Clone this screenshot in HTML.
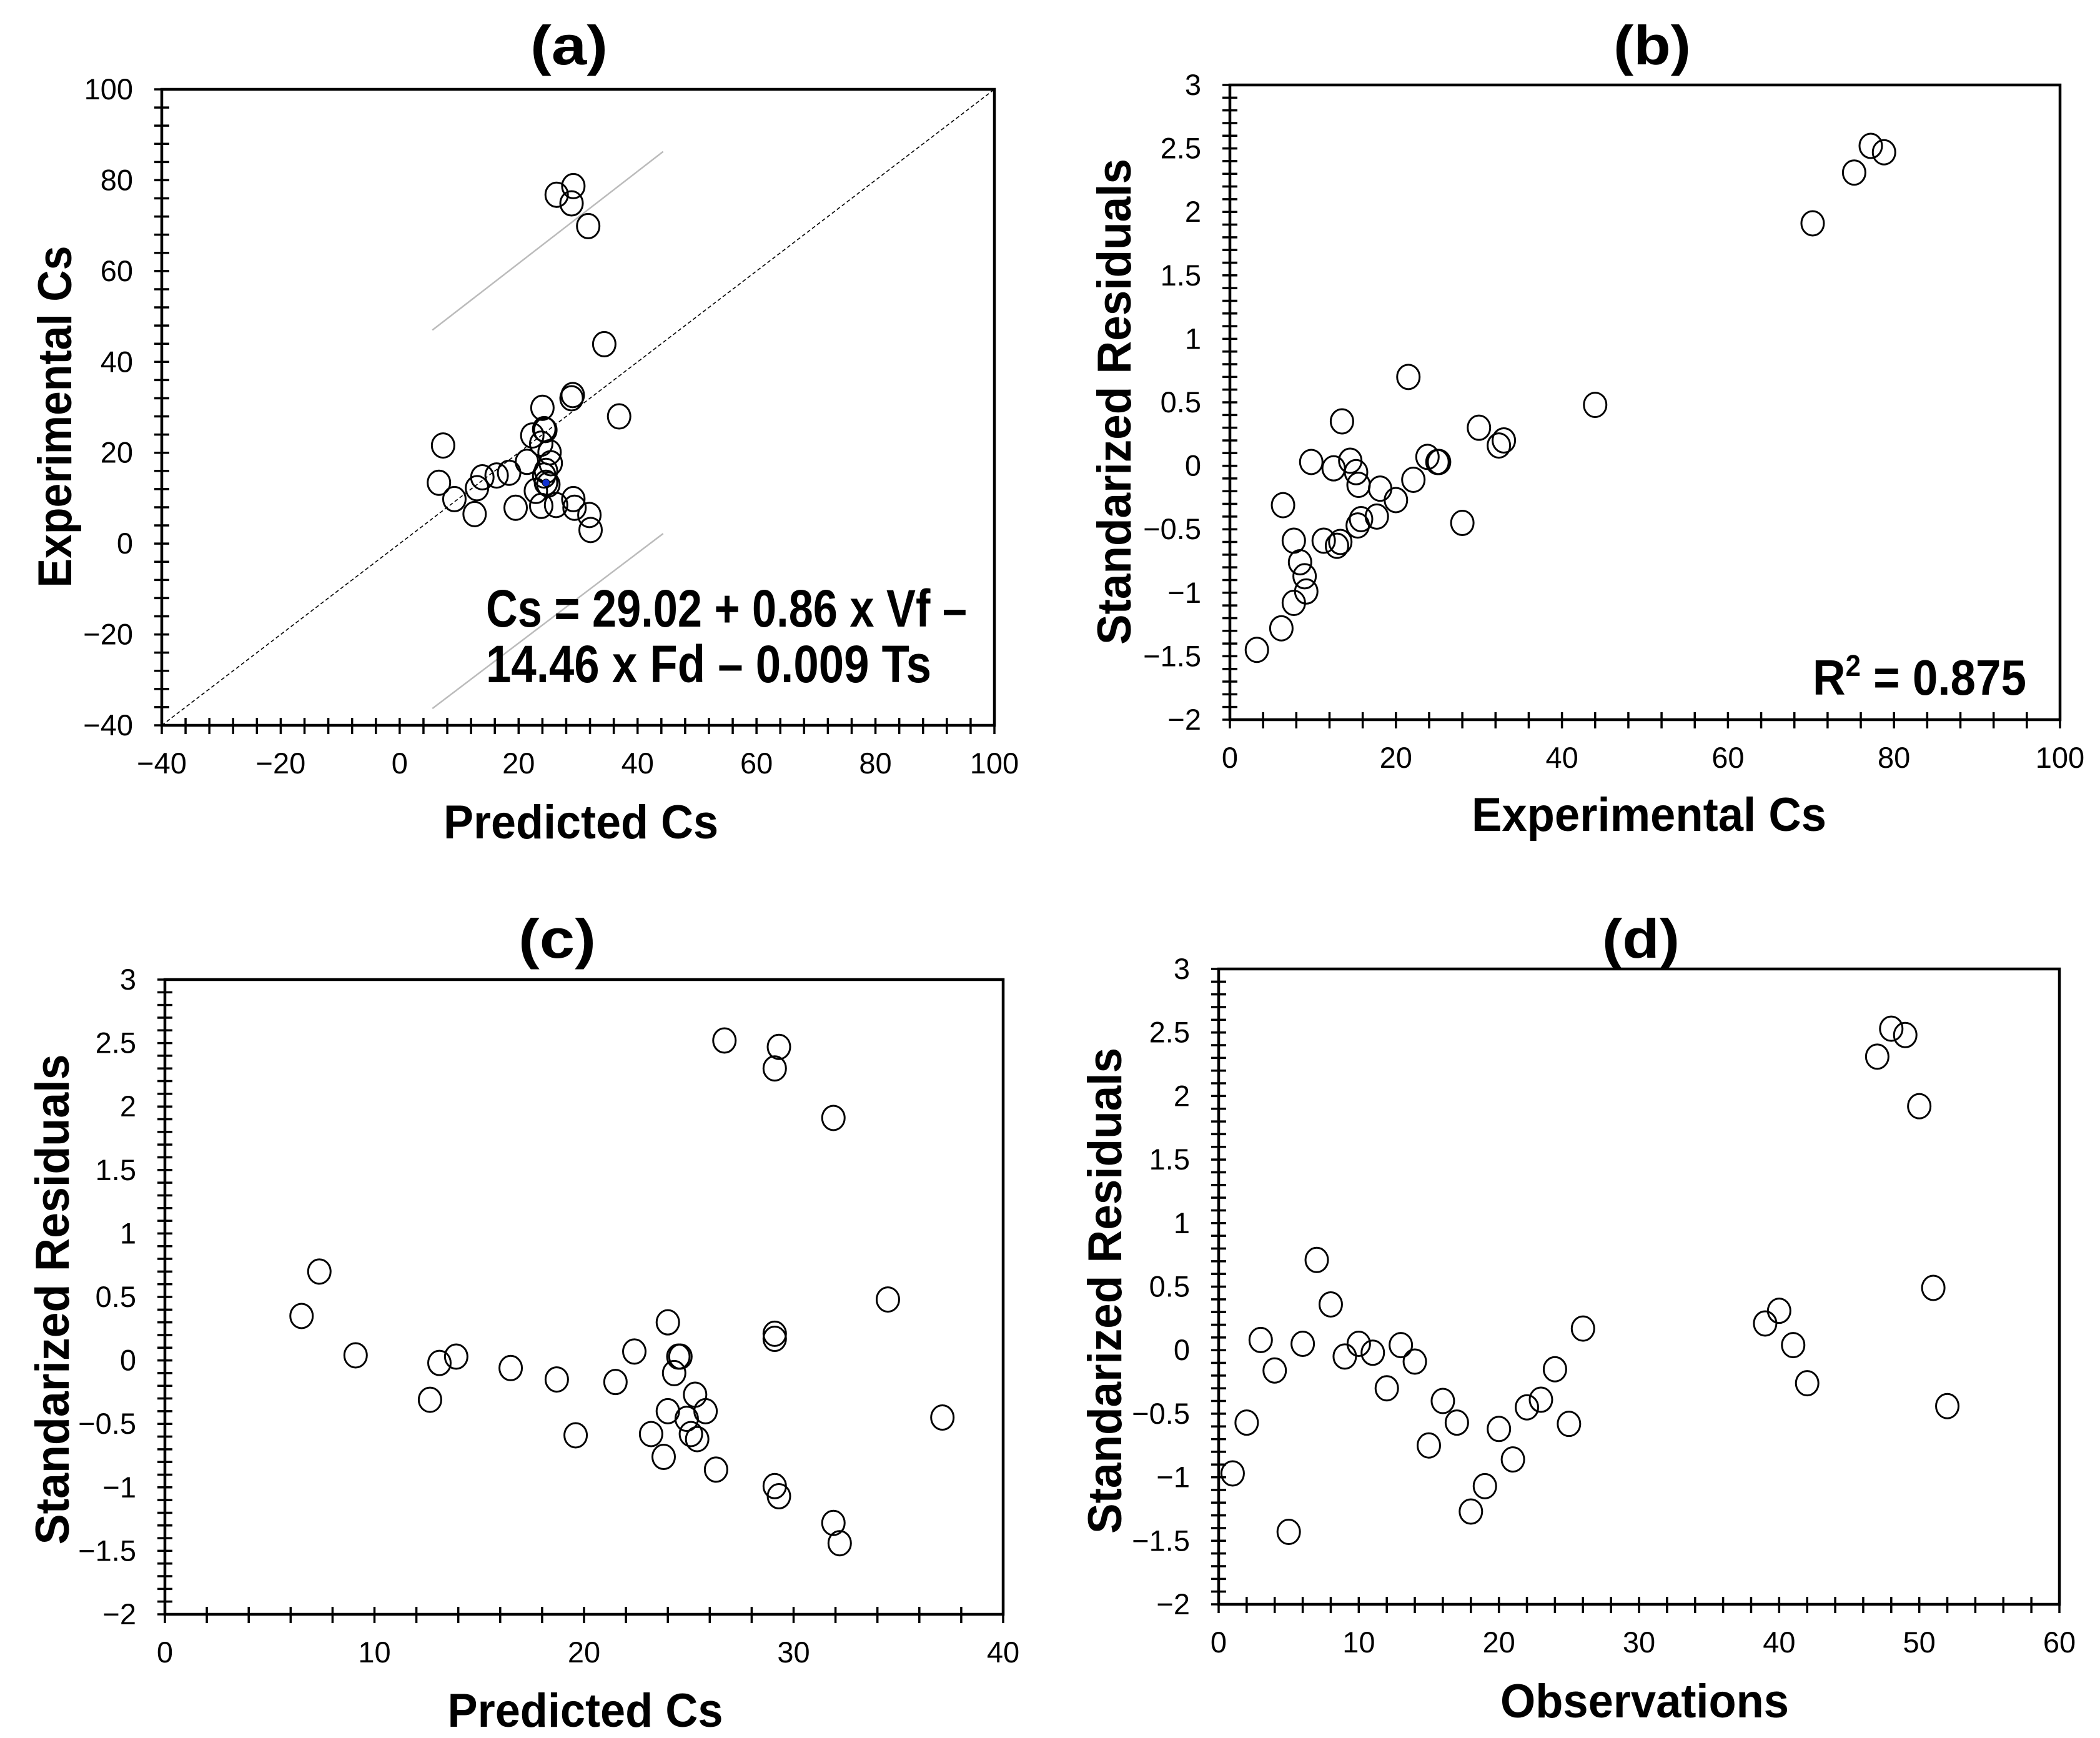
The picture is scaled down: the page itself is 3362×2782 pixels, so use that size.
<!DOCTYPE html>
<html>
<head>
<meta charset="utf-8">
<style>
  html,body{margin:0;padding:0;background:#fff;}
  svg{display:block;}
  text{font-family:"Liberation Sans",Arial,sans-serif;fill:#000;}
</style>
</head>
<body>
<svg id="fig" width="3362" height="2782" viewBox="0 0 3362 2782" xmlns="http://www.w3.org/2000/svg"></svg>
<script>
// ---------- Data ----------
const aPredicted = [26.4,29.2,28.9,31.7,34.4,29.1,28.9,36.9,24.0,24.3,24.5,22.3,23.8,25.2,25.4,7.3,21.4,18.4,16.3,13.9,13.0,6.6,9.2,12.6,19.5,24.3,24.6,25.0,22.9,23.8,26.3,29.2,29.4,31.9,32.1,24.6];
const aExperimental = [76.8,78.7,74.9,69.9,43.9,32.7,32.0,28.0,29.9,25.2,25.0,23.8,22.0,20.1,17.7,21.6,18.0,15.6,15.0,14.6,12.2,13.4,9.8,6.5,7.9,15.0,13.4,13.0,11.6,8.3,8.5,9.8,7.9,6.3,3.0,16.0];
const aBlueDot = [24.6,13.4];
const aUpperBand = [[5.5,47.0],[44.3,86.3]];
const aLowerBand = [[5.5,-36.3],[44.3,2.2]];
const bExperimental = [77.2,78.8,75.2,70.2,21.5,44.0,13.5,30.0,33.0,32.4,9.8,14.5,23.8,25.0,25.2,12.5,15.2,15.5,22.1,18.1,20.0,6.4,17.7,15.8,15.4,28.0,7.7,11.3,12.9,13.3,8.45,9.0,9.2,7.7,6.2,3.25];
const bResidual = [2.52,2.47,2.31,1.91,0.70,0.48,0.35,0.30,0.20,0.16,0.03,0.04,0.07,0.03,0.03,-0.02,-0.05,-0.15,-0.11,-0.18,-0.27,-0.31,-0.40,-0.42,-0.47,-0.45,-0.59,-0.59,-0.63,-0.60,-0.76,-0.87,-0.99,-1.08,-1.28,-1.45];
const cPredicted = [26.7,29.3,29.1,31.9,7.37,6.52,34.5,24.0,29.1,29.1,9.1,13.9,13.1,22.4,24.6,24.5,16.5,18.7,21.5,24.3,12.65,25.3,25.8,24.0,24.9,37.1,19.6,23.2,25.1,25.4,23.8,26.3,29.1,29.3,31.9,32.2];
const cResidual = [2.52,2.47,2.30,1.91,0.70,0.35,0.48,0.30,0.21,0.17,0.04,0.03,-0.02,0.07,0.03,0.03,-0.06,-0.15,-0.17,-0.10,-0.31,-0.27,-0.40,-0.40,-0.46,-0.45,-0.59,-0.58,-0.58,-0.62,-0.76,-0.86,-0.99,-1.07,-1.28,-1.44];
const dObservation = [1,2,3,4,5,6,7,8,9,10,11,12,13,14,15,16,17,18,19,20,21,22,23,24,25,26,39,40,41,42,47,48,49,50,51,52];
const dResidual = [-0.97,-0.57,0.08,-0.16,-1.43,0.05,0.71,0.36,-0.05,0.05,-0.02,-0.30,0.04,-0.09,-0.75,-0.40,-0.57,-1.27,-1.07,-0.62,-0.86,-0.45,-0.39,-0.15,-0.58,0.17,0.21,0.31,0.04,-0.26,2.31,2.53,2.48,1.92,0.49,-0.44];
const aTickValues = [-40,-20,0,20,40,60,80,100];
const residTickValues = [-2,-1.5,-1,-0.5,0,0.5,1,1.5,2,2.5,3];
const bXTickValues = [0,20,40,60,80,100];
const cXTickValues = [0,10,20,30,40];
const dXTickValues = [0,10,20,30,40,50,60];

// ---------- Drawing ----------
const NS = "http://www.w3.org/2000/svg";
const svg = document.getElementById("fig");
function mk(tag, attrs, parent){
  const e = document.createElementNS(NS, tag);
  for (const k in attrs) e.setAttribute(k, attrs[k]);
  (parent||svg).appendChild(e);
  return e;
}
function fmt(v){
  const s = String(Math.abs(v));
  return v < 0 ? "\u2212" + s : s;
}

function panel(p){
  const g = mk("g", {});
  
  
  const sx = v => p.L + (v - p.x0) / (p.x1 - p.x0) * (p.R - p.L);
  const sy = v => p.B - (v - p.y0) / (p.y1 - p.y0) * (p.B - p.T);
  p.sx = sx; p.sy = sy;

  const frame = mk("rect", {x:p.L, y:p.T, width:p.R-p.L, height:p.B-p.T, fill:"none", stroke:"#000", "stroke-width":4.5}, g);
  
  

  const nx = Math.round((p.x1 - p.x0) / p.xMinor);
  for (let i = 0; i <= nx; i++){
    const x = sx(p.x0 + i * p.xMinor);
    const t = mk("line", {x1:x, x2:x, y1:p.B-12, y2:p.B+14, stroke:"#000", "stroke-width":3.5}, g);
    
    
  }
  const ny = Math.round((p.y1 - p.y0) / p.yMinor);
  for (let i = 0; i <= ny; i++){
    const y = sy(p.y0 + i * p.yMinor);
    const t = mk("line", {x1:p.L-12, x2:p.L+12, y1:y, y2:y, stroke:"#000", "stroke-width":3.5}, g);
    
    
  }
  p.xTicks.forEach(v => {
    const t = mk("text", {x:sx(v), y:p.B+77, "font-size":47, "text-anchor":"middle"}, g);
    t.textContent = fmt(v);
    
    
  });
  p.yTicks.forEach(v => {
    const t = mk("text", {x:p.L-46, y:sy(v)+16, "font-size":47, "text-anchor":"end"}, g);
    t.textContent = fmt(v);
    
    
  });
  const ti = mk("text", {x:p.titleX, y:p.titleY, "font-size":88, "font-weight":"bold", "text-anchor":"middle", textLength:124, lengthAdjust:"spacingAndGlyphs"}, g);
  ti.textContent = p.title;
  
  
  const xt = mk("text", {x:p.xtX, y:p.xtY, "font-size":76, "font-weight":"bold", "text-anchor":"middle", textLength:p.xtLen, lengthAdjust:"spacingAndGlyphs"}, g);
  xt.textContent = p.xTitle;
  
  
  const yt = mk("text", {x:0, y:0, "font-size":76, "font-weight":"bold", "text-anchor":"middle", textLength:p.ytLen, lengthAdjust:"spacingAndGlyphs", transform:`translate(${p.ytX},${p.ytY}) rotate(-90)`}, g);
  yt.textContent = p.yTitle;
  
  

  p.xs.forEach((xv, i) => {
    const c = mk("ellipse", {cx:sx(xv), cy:sy(p.ys[i]), rx:18, ry:19.5, fill:"none", stroke:"#000", "stroke-width":3}, g);
    
    
  });
  return g;
}

const pa = {name:"panel-a", L:259, R:1592, T:143, B:1161, x0:-40, x1:100, y0:-40, y1:100, xMinor:4, yMinor:4,
  xTicks:aTickValues, yTicks:aTickValues, title:"(a)", titleX:911, titleY:103,
  xTitle:"Predicted Cs", xtX:930, xtY:1342, xtLen:440,
  yTitle:"Experimental Cs", ytX:114, ytY:667, ytLen:547,
  xs:[], ys:[]};
const ga = panel(pa);
const diag = mk("line", {x1:pa.sx(-40), y1:pa.sy(-40), x2:pa.sx(100), y2:pa.sy(100), stroke:"#000", "stroke-width":1.6, "stroke-dasharray":"6,4"}, ga);


const up = mk("line", {x1:pa.sx(aUpperBand[0][0]), y1:pa.sy(aUpperBand[0][1]), x2:pa.sx(aUpperBand[1][0]), y2:pa.sy(aUpperBand[1][1]), stroke:"#bbb", "stroke-width":2.5}, ga);


const lo = mk("line", {x1:pa.sx(aLowerBand[0][0]), y1:pa.sy(aLowerBand[0][1]), x2:pa.sx(aLowerBand[1][0]), y2:pa.sy(aLowerBand[1][1]), stroke:"#bbb", "stroke-width":2.5}, ga);


aPredicted.forEach((xv, i) => {
  const c = mk("ellipse", {cx:pa.sx(xv), cy:pa.sy(aExperimental[i]), rx:18, ry:19.5, fill:"none", stroke:"#000", "stroke-width":3}, ga);
  
  
});
const bd = mk("circle", {cx:pa.sx(aBlueDot[0]), cy:pa.sy(aBlueDot[1]), r:6, fill:"#1030d0", stroke:"#000", "stroke-width":1}, ga);


const eq1 = mk("text", {x:778, y:1003, "font-size":84, "font-weight":"bold", textLength:770, lengthAdjust:"spacingAndGlyphs"}, ga);
eq1.textContent = "Cs = 29.02 + 0.86 x Vf \u2013";


const eq2 = mk("text", {x:778, y:1092, "font-size":84, "font-weight":"bold", textLength:713, lengthAdjust:"spacingAndGlyphs"}, ga);
eq2.textContent = "14.46 x Fd \u2013 0.009 Ts";



const pb = {name:"panel-b", L:1969, R:3298, T:136, B:1152, x0:0, x1:100, y0:-2, y1:3, xMinor:4, yMinor:0.1,
  xTicks:bXTickValues, yTicks:residTickValues, title:"(b)", titleX:2645, titleY:103,
  xTitle:"Experimental Cs", xtX:2640, xtY:1330, xtLen:568,
  yTitle:"Standarized Residuals", ytX:1810, ytY:643, ytLen:778,
  xs:bExperimental, ys:bResidual};
const gb = panel(pb);
const r2 = mk("text", {x:2902, y:1112, "font-size":80, "font-weight":"bold", textLength:342, lengthAdjust:"spacingAndGlyphs"}, gb);
r2.innerHTML = 'R<tspan font-size="48" dy="-30">2</tspan><tspan dy="30"> = 0.875</tspan>';



panel({name:"panel-c", L:264, R:1606, T:1568, B:2584, x0:0, x1:40, y0:-2, y1:3, xMinor:2, yMinor:0.1,
  xTicks:cXTickValues, yTicks:residTickValues, title:"(c)", titleX:892, titleY:1533,
  xTitle:"Predicted Cs", xtX:937, xtY:2764, xtLen:441,
  yTitle:"Standarized Residuals", ytX:110, ytY:2080, ytLen:785,
  xs:cPredicted, ys:cResidual});

panel({name:"panel-d", L:1951, R:3297, T:1551, B:2568, x0:0, x1:60, y0:-2, y1:3, xMinor:2, yMinor:0.1,
  xTicks:dXTickValues, yTicks:residTickValues, title:"(d)", titleX:2627, titleY:1533,
  xTitle:"Observations", xtX:2633, xtY:2749, xtLen:462,
  yTitle:"Standarized Residuals", ytX:1795, ytY:2066, ytLen:778,
  xs:dObservation, ys:dResidual});
</script>
</body>
</html>
